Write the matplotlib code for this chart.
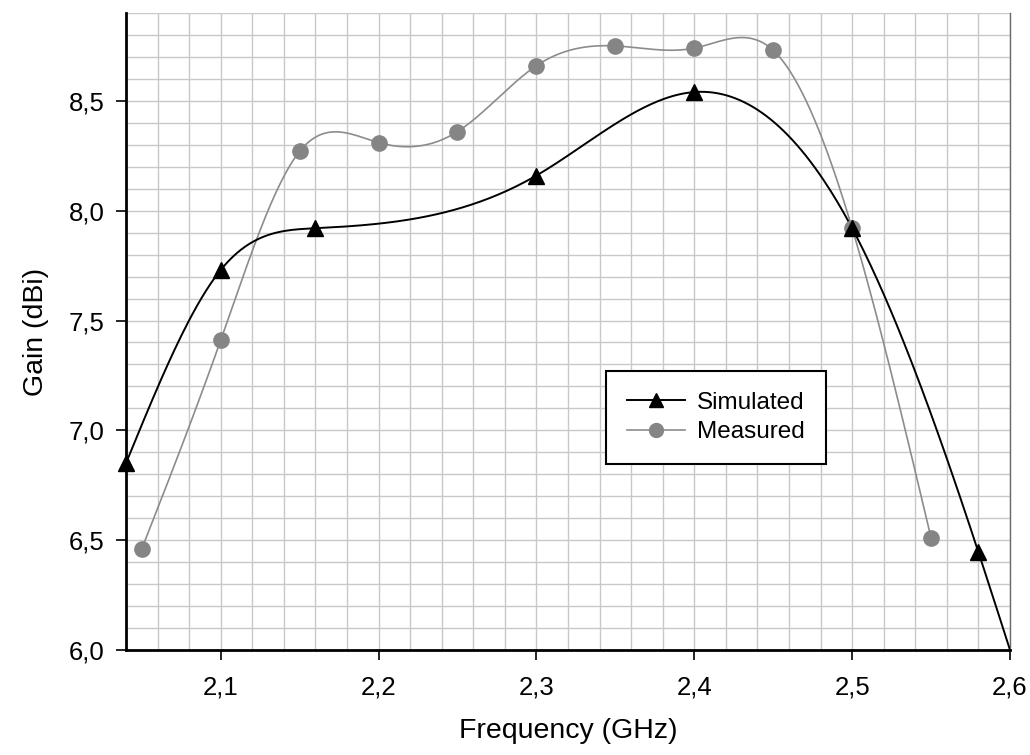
import numpy as np
import matplotlib
matplotlib.use("Agg")
import matplotlib.pyplot as plt
from matplotlib.ticker import MultipleLocator, FuncFormatter

plt.rcParams['font.family'] = ['Liberation Sans', 'DejaVu Sans']

# Gain data (GHz, dBi)
sim_freq = [2.04, 2.10, 2.16, 2.30, 2.40, 2.50, 2.58, 2.60]
sim_gain = [6.85, 7.73, 7.92, 8.16, 8.54, 7.92, 6.445, 6.0]
meas_freq = [2.05, 2.10, 2.15, 2.20, 2.25, 2.30, 2.35, 2.40, 2.45, 2.50, 2.55]
meas_gain = [6.46, 7.41, 8.27, 8.31, 8.36, 8.66, 8.75, 8.74, 8.73, 7.92, 6.51]


def natural_spline(x, y, n=400):
    """Evaluate a natural cubic spline through (x, y) on a dense grid."""
    x = np.asarray(x, float)
    y = np.asarray(y, float)
    k = len(x)
    h = np.diff(x)
    A = np.zeros((k, k))
    b = np.zeros(k)
    A[0, 0] = A[-1, -1] = 1.0
    for i in range(1, k - 1):
        A[i, i - 1] = h[i - 1]
        A[i, i] = 2 * (h[i - 1] + h[i])
        A[i, i + 1] = h[i]
        b[i] = 6 * ((y[i + 1] - y[i]) / h[i] - (y[i] - y[i - 1]) / h[i - 1])
    m = np.linalg.solve(A, b)
    xs = np.linspace(x[0], x[-1], n)
    idx = np.clip(np.searchsorted(x, xs) - 1, 0, k - 2)
    x0, x1 = x[idx], x[idx + 1]
    hh = x1 - x0
    t0 = x1 - xs
    t1 = xs - x0
    ys = (m[idx] * t0 ** 3 / (6 * hh) + m[idx + 1] * t1 ** 3 / (6 * hh)
          + (y[idx] / hh - m[idx] * hh / 6) * t0
          + (y[idx + 1] / hh - m[idx + 1] * hh / 6) * t1)
    return xs, ys


fig = plt.figure(figsize=(10.30, 7.55), dpi=100)
ax = fig.add_axes([0.1223, 0.1391, 0.8583, 0.8437])

sim_color = 'black'
meas_line = '#8c8c8c'
meas_marker = '#858585'

# smooth curves
xs, ys = natural_spline(meas_freq, meas_gain)
ax.plot(xs, ys, color=meas_line, lw=1.2, zorder=3)
xs, ys = natural_spline(sim_freq, sim_gain)
ax.plot(xs, ys, color=sim_color, lw=1.4, zorder=4)

# markers
ax.plot(meas_freq, meas_gain, 'o', color=meas_marker, ms=11, mec=meas_marker,
        zorder=5, clip_on=False)
ax.plot(sim_freq[:-1], sim_gain[:-1], '^', color=sim_color, ms=11, zorder=6,
        clip_on=False)

# legend proxies
h1, = ax.plot([], [], '-^', color=sim_color, ms=10, lw=1.4, label='Simulated')
h2, = ax.plot([], [], '-o', color=meas_line, mfc=meas_marker, mec=meas_marker,
              ms=10, lw=1.2, label='Measured')
leg = ax.legend(handles=[h1, h2], loc='upper left',
                bbox_to_anchor=(0.543, 0.438), borderaxespad=0,
                fontsize=17.5, frameon=True, fancybox=False, framealpha=1,
                edgecolor='black', handlelength=2.4, borderpad=0.85,
                labelspacing=0.32, handletextpad=0.5)
leg.get_frame().set_linewidth(1.5)

ax.set_xlim(2.04, 2.60)
ax.set_ylim(6.0, 8.9)
ax.xaxis.set_major_locator(MultipleLocator(0.1))
ax.xaxis.set_minor_locator(MultipleLocator(0.02))
ax.yaxis.set_major_locator(MultipleLocator(0.5))
ax.yaxis.set_minor_locator(MultipleLocator(0.1))

comma = FuncFormatter(lambda v, p: f"{v:.1f}".replace('.', ','))
ax.xaxis.set_major_formatter(comma)
ax.yaxis.set_major_formatter(comma)

ax.grid(True, which='both', color='#c8c8c8', lw=1.0)
ax.set_axisbelow(True)

ax.tick_params(which='major', direction='out', length=7.5, width=1.2,
               labelsize=18.5, pad=8, color='black')
ax.tick_params(which='minor', length=0)
ax.tick_params(axis='x', pad=11)

ax.spines['top'].set_visible(False)
ax.spines['right'].set_color('#6a6a6a')
ax.spines['right'].set_linewidth(1.0)
ax.spines['left'].set_linewidth(2.0)
ax.spines['bottom'].set_linewidth(2.0)

ax.set_xlabel('Frequency (GHz)', fontsize=20.5, labelpad=13)
ax.set_ylabel('Gain (dBi)', fontsize=20.5, labelpad=14)

fig.savefig('out.png', dpi=100)
